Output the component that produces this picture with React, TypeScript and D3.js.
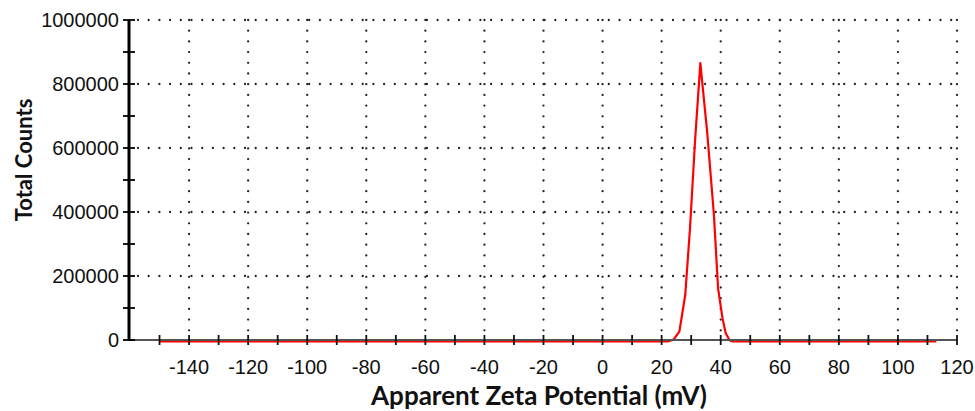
import React from "react";
import * as d3 from "d3";

const zeta: number[] = [-150, 22, 24, 26, 28, 29.6, 31.3, 33.1, 35.4, 37.7, 39.1, 40.6, 41.7, 43, 44, 113];
const counts: number[] = [0, 0, 6000, 31000, 146000, 354000, 625000, 870000, 656000, 396000, 167000, 73000, 26000, 4000, 0, 0];
const xTicks: number[] = [-140, -120, -100, -80, -60, -40, -20, 0, 20, 40, 60, 80, 100, 120];
const xMinorTicks: number[] = [-150, -130, -110, -90, -70, -50, -30, -10, 10, 30, 50, 70, 90, 110];
const yTicks: number[] = [0, 200000, 400000, 600000, 800000, 1000000];
const yMinorTicks: number[] = [100000, 300000, 500000, 700000, 900000];

const W = 975;
const H = 411;

export default function App() {
  const x = d3.scaleLinear().domain([-160, 120]).range([130, 957]);
  const y = d3.scaleLinear().domain([0, 1000000]).range([340, 20]);
  const line = d3
    .line<number>()
    .x((_, i) => x(zeta[i]))
    .y((d) => y(d));
  const x0 = x(-160);
  const x1 = x(120);
  const y0 = y(0);
  const yTop = y(1000000);
  const gridStyle = {
    stroke: "#222",
    strokeWidth: 2.3,
    strokeLinecap: "round" as const,
    strokeDasharray: "0 10.7",
  };
  return (
    <svg
      width={W}
      height={H}
      style={{ position: "absolute", left: 0, top: 0, background: "#fff" }}
    >
      {/* grid */}
      {yTicks
        .filter((t) => t > 0)
        .map((t) => (
          <line key={"gy" + t} x1={x0 + 8} x2={x1} y1={y(t)} y2={y(t)} {...gridStyle} />
        ))}
      {xTicks.map((t) => (
        <line key={"gx" + t} x1={x(t)} x2={x(t)} y1={yTop} y2={y0 - 8} {...gridStyle} />
      ))}
      {/* data */}
      <path
        d={line(counts) || ""}
        fill="none"
        stroke="#ff0000"
        strokeWidth={2.2}
        strokeLinejoin="round"
        transform="translate(0,1.5)"
      />
      {/* x axis */}
      <line x1={x0} x2={x1} y1={y0} y2={y0} stroke="#555" strokeWidth={2} />
      {xTicks.concat(xMinorTicks).map((t) => (
        <line key={"xt" + t} x1={x(t)} x2={x(t)} y1={y0 - 5} y2={y0 + 5} stroke="#111" strokeWidth={1.8} />
      ))}
      {xTicks.map((t) => (
        <text
          key={"xl" + t}
          x={x(t)}
          y={374}
          textAnchor="middle"
          fontFamily="Liberation Sans, Arial, sans-serif"
          fontSize={20}
          fill="#111"
        >
          {t}
        </text>
      ))}
      {/* y axis */}
      <line x1={x0 - 1} x2={x0 - 1} y1={yTop} y2={y0 + 1} stroke="#000" strokeWidth={3} />
      {yTicks.concat(yMinorTicks).map((t) => (
        <line key={"yt" + t} x1={x0 - 7} x2={x0 + 5} y1={y(t)} y2={y(t)} stroke="#000" strokeWidth={1.8} />
      ))}
      {yTicks.map((t) => (
        <text
          key={"yl" + t}
          x={119}
          y={y(t)}
          dy="0.36em"
          textAnchor="end"
          fontFamily="Liberation Sans, Arial, sans-serif"
          fontSize={20}
          fill="#111"
        >
          {t}
        </text>
      ))}
      {/* titles */}
      <text
        x={539}
        y={405}
        textAnchor="middle"
        fontFamily="Lato, 'Open Sans', sans-serif"
        fontWeight="bold"
        fontSize={26}
        fill="#111"
      >
        Apparent Zeta Potential (mV)
      </text>
      <text
        transform={`translate(32,160) rotate(-90)`}
        textAnchor="middle"
        fontFamily="Lato, 'Open Sans', sans-serif"
        fontWeight="bold"
        fontSize={22}
        fill="#111"
      >
        Total Counts
      </text>
    </svg>
  );
}
